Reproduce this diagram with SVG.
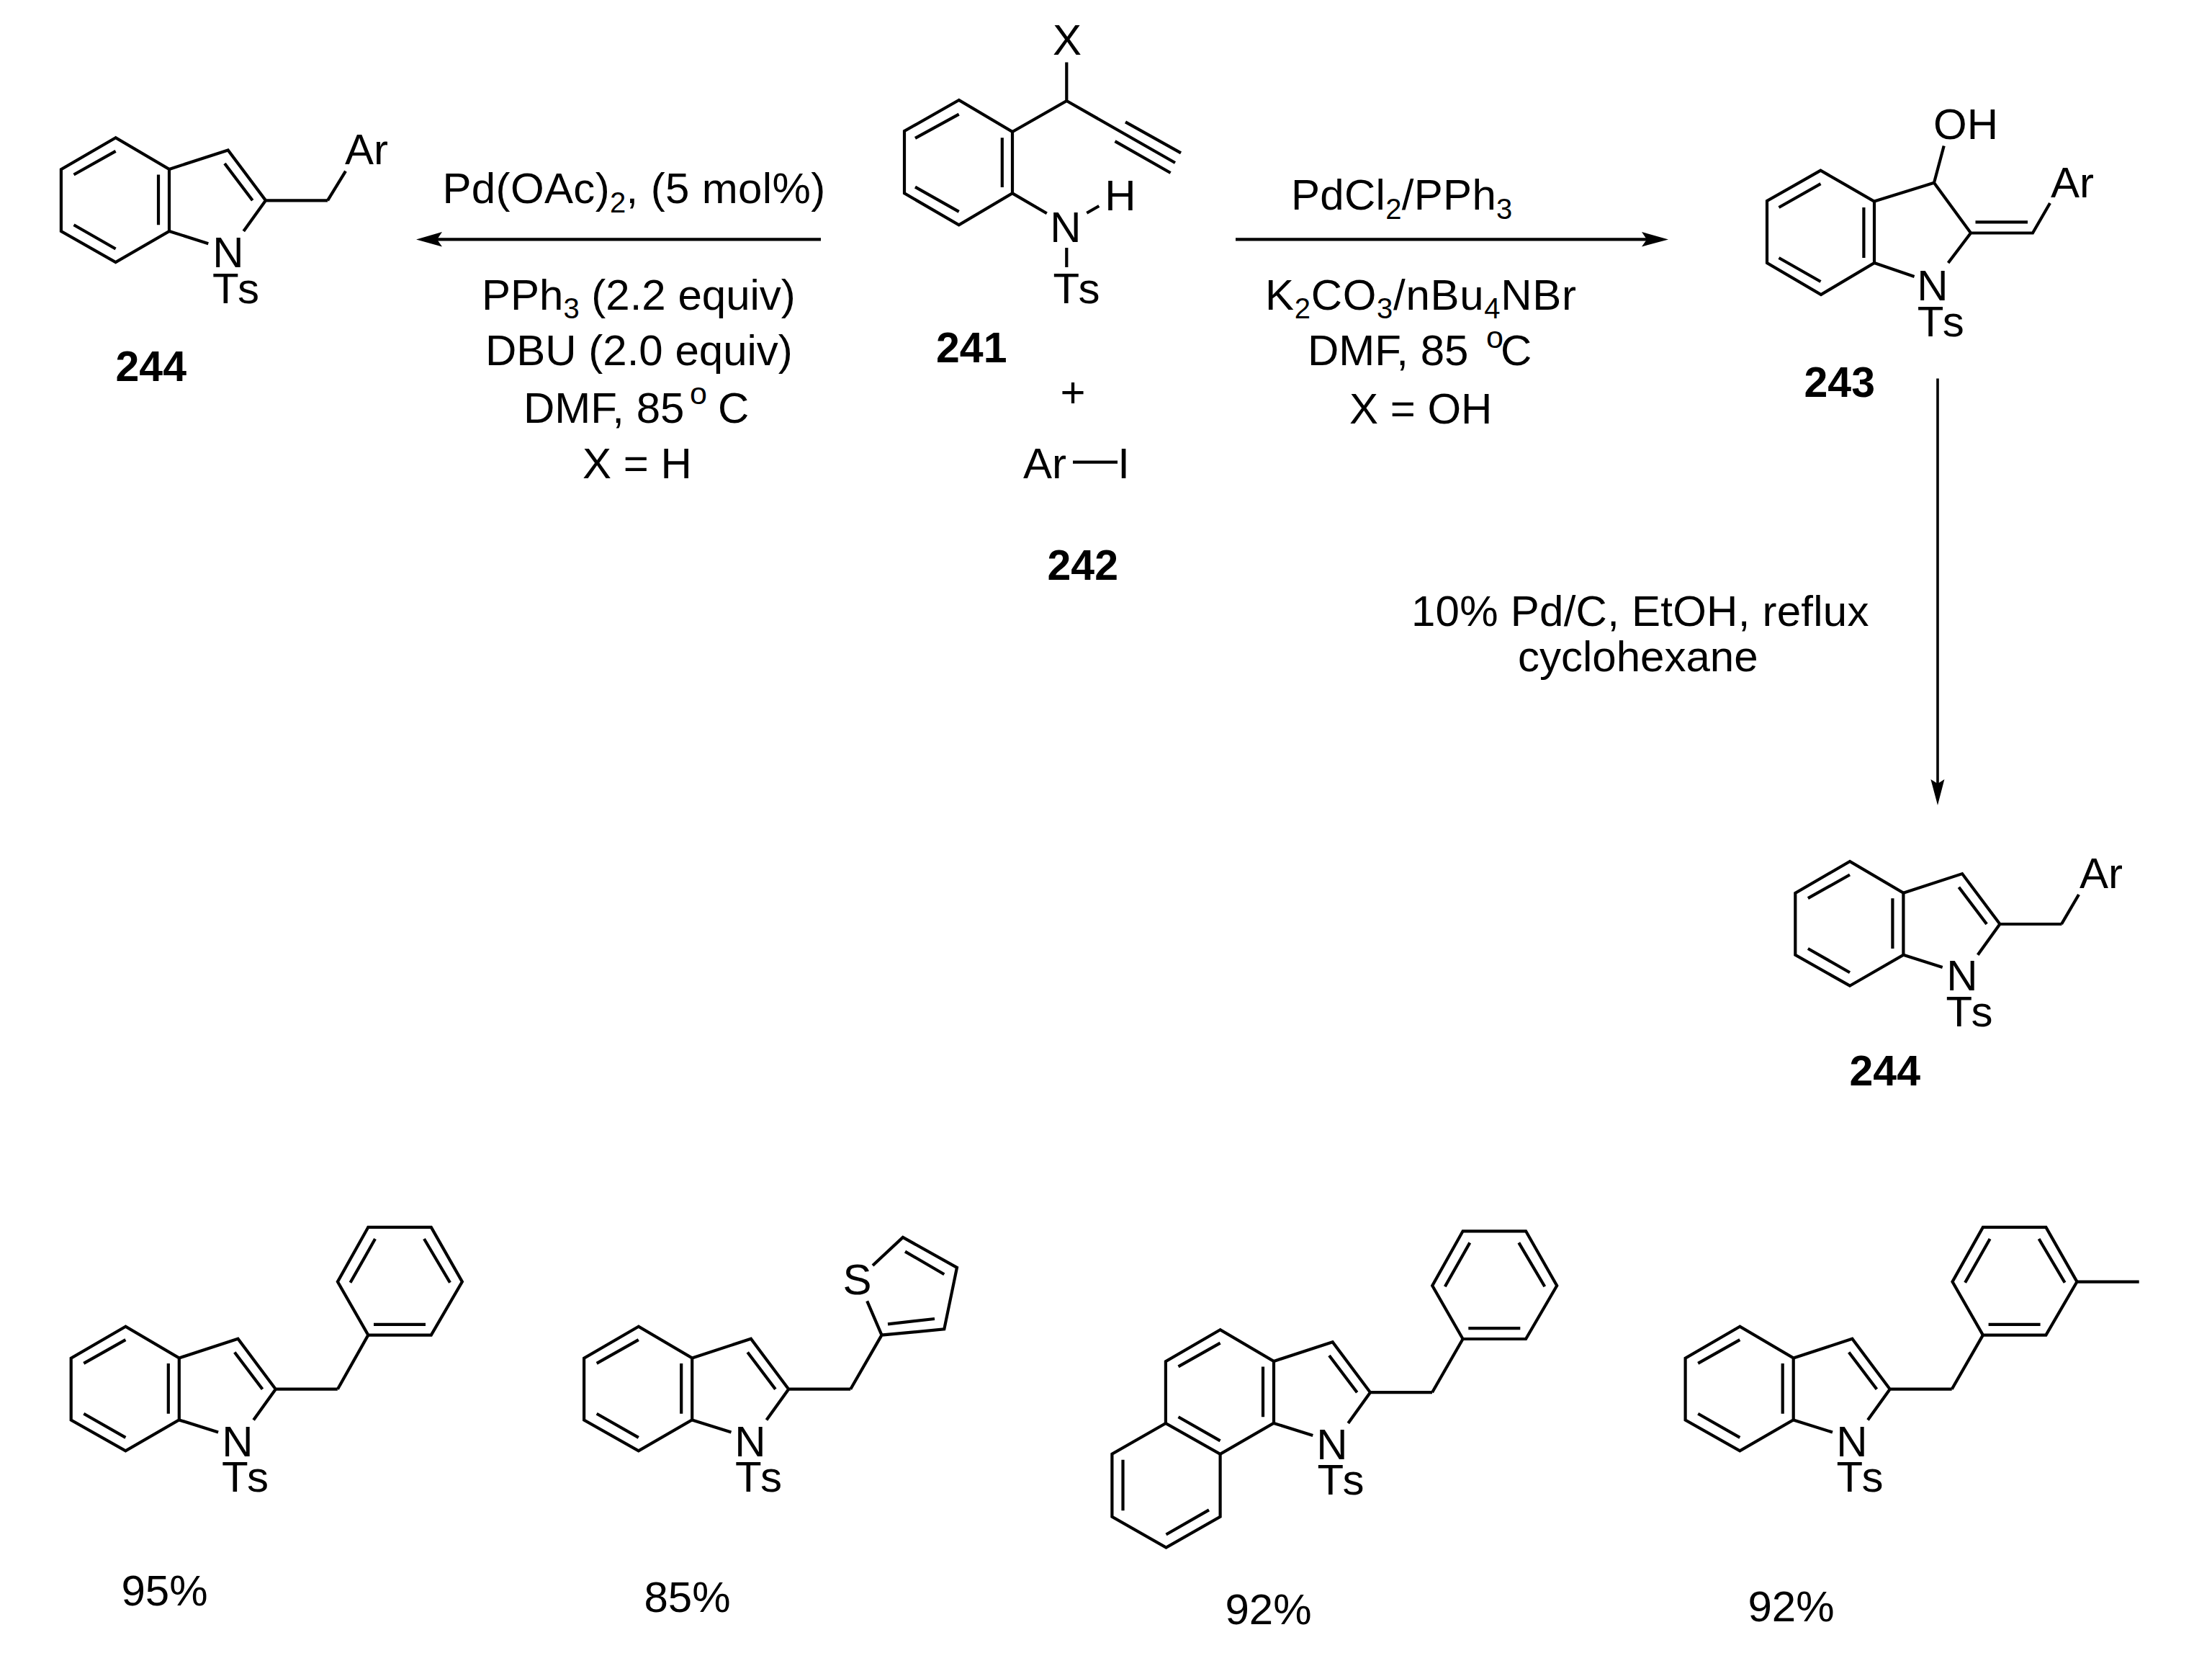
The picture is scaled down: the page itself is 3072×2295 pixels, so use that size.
<svg xmlns="http://www.w3.org/2000/svg" xmlns:xlink="http://www.w3.org/1999/xlink" width="3072" height="2295" viewBox="0 0 3072 2295">
<style>
text{font-family:"Liberation Sans",Arial,sans-serif;font-size:60px;fill:#000}
.b{font-weight:bold;font-size:59px}
.c{text-anchor:middle}
.ts{letter-spacing:5px}
.sub{font-size:40px}
.deg{font-size:43px}
.bond{fill:none;stroke:#000;stroke-width:4.2;stroke-linejoin:miter;stroke-linecap:butt}
.arrow{fill:none;stroke:#000;stroke-width:4.4}
.head{fill:#000;stroke:none}
</style>
<defs>
<g id="indole" class="bond">
<path d="M0 0L-75.7 43.9V129.8L0 172.7L74.4 129.7V43.7Z"/>
<path d="M-58.1 51.2L0 18.5M-58.1 121L0 154.2M59.4 51.2V121"/>
<path d="M74.4 43.7L156.1 17.1L208.4 87H294.4M151.4 35.7L190.1 87M208.4 87L177.7 129.7M74.4 129.7L128.7 146.9"/>
</g>
<g id="phenyl" class="bond">
<path d="M0 0H87.5L130.6 -74L87.5 -149.7H0L-42.4 -74Z"/>
<path d="M-24.8 -72.8L9.7 -133.6M77.7 -133.6L113.7 -72.8M7.7 -14.8H79.7"/>
</g>
</defs>
<g id="connectors">
<path class="arrow" d="M1140 332.4H606"/>
<path class="head" d="M578 332.4L614 322L607 332.4L614 342.5Z"/>
<path class="arrow" d="M1716 332.4H2290"/>
<path class="head" d="M2317 332.4L2280 322L2287 332.4L2280 342.5Z"/>
<path class="arrow" style="stroke-width:3.6" d="M2691 525.6V1090"/>
<path class="head" d="M2691 1118L2681.4 1082L2691 1088L2700.4 1082Z"/>
</g>
<g id="product-244-left">
<use xlink:href="#indole" href="#indole" x="160.6" y="191.3"/>
<path class="bond" d="M455 278.3L480 237.7"/>
<text x="479" y="228">Ar</text>
<text class="c" x="317" y="371">N</text>
<text class="ts" x="295" y="421">Ts</text>
<text class="b" x="160.5" y="528.5">244</text>
</g>
<g id="conditions-left">
<text x="614.5" y="282" style="letter-spacing:.35px">Pd(OAc)<tspan class="sub" dy="13">2</tspan><tspan dy="-13">, (5 mol%)</tspan></text>
<text x="669" y="430">PPh<tspan class="sub" dy="12">3</tspan><tspan dy="-12"> (2.2 equiv)</tspan></text>
<text x="674" y="506.5">DBU (2.0 equiv)</text>
<text x="727" y="587">DMF, 85</text><text class="deg" x="958" y="561">o</text><text x="997" y="587">C</text>
<text x="809" y="664">X = H</text>
</g>
<g id="reactant-241">
<path class="bond" d="M1331.7 139L1256 182V268.4L1331.7 312.3L1406 268.4V183Z"/>
<path class="bond" d="M1271 191.8L1331.7 158.6M1271 259.6L1331.7 293.8M1391.8 191.3V260"/>
<path class="bond" d="M1406 183L1481.3 140V86.4M1481.3 140L1632 226M1563 169.3L1640 212.3M1548.5 196.2L1625.6 240M1406 268.4L1453.8 296.2M1509.3 295.7L1526.3 286M1481.3 344V371"/>
<text class="c" x="1482" y="75.6">X</text>
<text class="c" x="1480" y="335.7">N</text>
<text class="c" x="1556" y="291.8">H</text>
<text class="ts" x="1462.6" y="421">Ts</text>
<text class="b" x="1300" y="502.6">241</text>
</g>
<g id="reactant-242">
<text class="c" x="1490" y="565">+</text>
<text x="1421" y="663.7">Ar</text>
<path class="bond" d="M1490 641.7H1552"/>
<text class="c" x="1560.5" y="663.7">I</text>
<text class="b" x="1454.5" y="805">242</text>
</g>
<g id="conditions-right">
<text x="1793" y="291.3" style="letter-spacing:.3px">PdCl<tspan class="sub" dy="13">2</tspan><tspan dy="-13">/PPh</tspan><tspan class="sub" dy="13">3</tspan></text>
<text x="1757" y="430.4" style="letter-spacing:.7px">K<tspan class="sub" dy="12">2</tspan><tspan dy="-12">CO</tspan><tspan class="sub" dy="12">3</tspan><tspan dy="-12">/nBu</tspan><tspan class="sub" dy="12">4</tspan><tspan dy="-12">NBr</tspan></text>
<text x="1816" y="506.5">DMF, 85</text><text class="deg" x="2064" y="483">o</text><text x="2084" y="506.5">C</text>
<text x="1874" y="588">X = OH</text>
<text x="1960" y="869" style="letter-spacing:.25px">10% Pd/C, EtOH, reflux</text>
<text x="2108" y="932">cyclohexane</text>
</g>
<g id="intermediate-243">
<path class="bond" d="M2528.5 236.7L2454 279V365L2529 409L2603 365V279.6Z"/>
<path class="bond" d="M2470.5 288L2528.5 255.2M2470.5 358L2528.5 391M2588.4 288V358"/>
<path class="bond" d="M2603 279.6L2686 253.8L2737 323.5H2823L2847 282M2743.5 308.4H2816M2737 323.5L2705.6 365M2603 365L2658.6 384M2686 253.8L2699.7 202.5"/>
<text x="2685" y="192.8">OH</text>
<text x="2848" y="274">Ar</text>
<text class="c" x="2684" y="417">N</text>
<text class="ts" x="2662.8" y="467">Ts</text>
<text class="b" x="2505.5" y="551.4">243</text>
</g>
<g id="product-244-right">
<use xlink:href="#indole" href="#indole" x="2569" y="1196"/>
<path class="bond" d="M2863 1283L2887 1242"/>
<text x="2888" y="1232.5">Ar</text>
<text class="c" x="2725" y="1375">N</text>
<text class="ts" x="2702.6" y="1425.3">Ts</text>
<text class="b" x="2568.5" y="1506.8">244</text>
</g>
<g id="example-95">
<use xlink:href="#indole" href="#indole" x="174.4" y="1841.7"/>
<use xlink:href="#phenyl" href="#phenyl" x="511.3" y="1853.6"/>
<path class="bond" d="M468.9 1928.7L511.3 1853.6"/>
<text class="c" x="330" y="2022">N</text>
<text class="ts" x="308" y="2071">Ts</text>
<text x="168.5" y="2229">95%</text>
</g>
<g id="example-85">
<use xlink:href="#indole" href="#indole" x="886.8" y="1841.7"/>
<path class="bond" d="M1181.2 1928.7L1224.5 1853.6L1311.3 1845.4L1329 1759.8L1253.9 1717.9L1212 1757M1204.2 1806.3L1224.5 1853.6M1233 1838.4L1298 1831M1257 1737.6L1311.3 1769.3"/>
<text class="c" x="1190.5" y="1797.3">S</text>
<text class="c" x="1042" y="2022">N</text>
<text class="ts" x="1021" y="2071">Ts</text>
<text x="894.5" y="2237.5">85%</text>
</g>
<g id="example-92-naphtho">
<use xlink:href="#indole" href="#indole" x="1694.6" y="1846.2"/>
<path class="bond" d="M1619.5 1975.8L1544.4 2018.6V2105.8L1619.5 2148.6L1694.6 2105.8V2019M1559.5 2026.8V2097.2M1619.5 2130.5L1679 2096.4"/>
<use xlink:href="#phenyl" href="#phenyl" x="2031.6" y="1859"/>
<path class="bond" d="M1989 1933.2L2031.6 1859"/>
<text class="c" x="1850" y="2026.4">N</text>
<text class="ts" x="1829.5" y="2075">Ts</text>
<text x="1701.5" y="2254.8">92%</text>
</g>
<g id="example-92-tolyl">
<use xlink:href="#indole" href="#indole" x="2416.3" y="1841.7"/>
<use xlink:href="#phenyl" href="#phenyl" x="2753.9" y="1853.6"/>
<path class="bond" d="M2710.7 1928.7L2753.9 1853.6M2883.8 1779.6H2970.7"/>
<text class="c" x="2572" y="2022">N</text>
<text class="ts" x="2550.5" y="2071">Ts</text>
<text x="2427.5" y="2250.6">92%</text>
</g>
</svg>
